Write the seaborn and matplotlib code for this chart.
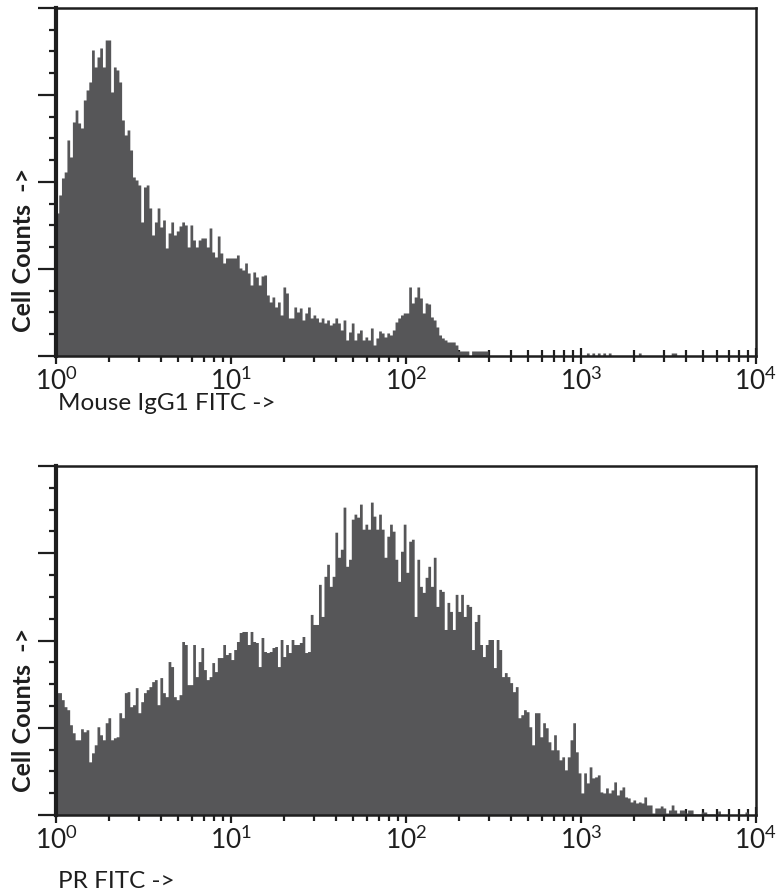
import numpy as np
import pandas as pd
import matplotlib
matplotlib.use("Agg")
import matplotlib.pyplot as plt
import seaborn as sns
from matplotlib.ticker import MultipleLocator, NullFormatter

# 256-channel histograms, 4 decades, counts
igg1_counts = [
    143, 161, 178, 184, 216, 199, 234, 246, 233, 228, 256, 266, 274, 306, 289, 299,
    308, 289, 316, 316, 264, 289, 286, 274, 236, 221, 226, 206, 179, 176, 171, 134,
    169, 171, 148, 121, 134, 148, 129, 136, 108, 123, 134, 121, 125, 130, 134, 131,
    109, 131, 116, 109, 116, 118, 118, 109, 128, 104, 99, 120, 103, 93, 98, 98,
    98, 98, 101, 88, 86, 93, 83, 71, 84, 79, 71, 80, 81, 61, 54, 59,
    49, 54, 41, 69, 63, 38, 38, 49, 44, 48, 36, 43, 49, 38, 41, 38,
    34, 38, 33, 36, 31, 33, 38, 33, 26, 36, 16, 24, 33, 16, 23, 26,
    16, 19, 16, 28, 11, 18, 25, 23, 19, 23, 21, 26, 34, 38, 41, 43,
    43, 69, 53, 59, 69, 58, 43, 53, 52, 39, 36, 29, 21, 18, 16, 14,
    14, 14, 11, 5, 5, 5, 5, 0, 5, 5, 5, 5, 5, 5, 0, 0,
    0, 0, 0, 0, 0, 0, 0, 0, 0, 0, 0, 0, 0, 0, 0, 0,
    0, 0, 0, 0, 0, 0, 0, 0, 0, 0, 0, 0, 0, 0, 0, 0,
    0, 0, 3, 0, 3, 0, 3, 0, 3, 0, 3, 0, 0, 0, 0, 0,
    0, 0, 0, 0, 0, 3, 0, 0, 0, 0, 0, 0, 0, 0, 0, 0,
    0, 3, 3, 0, 0, 0, 0, 0, 0, 0, 0, 0, 0, 0, 0, 0,
    0, 0, 0, 0, 0, 0, 0, 0, 0, 0, 0, 0, 0, 0, 0, 0,
]

pr_counts = [
    122, 122, 115, 108, 105, 90, 82, 75, 75, 86, 83, 85, 53, 62, 70, 88,
    80, 75, 92, 97, 75, 77, 78, 102, 97, 122, 123, 108, 110, 127, 102, 113,
    122, 125, 128, 133, 135, 110, 137, 122, 118, 153, 148, 118, 115, 120, 173,
    170, 130, 130, 170, 138, 153, 167, 145, 135, 138, 152, 143, 157, 157, 170,
    160, 162, 155, 165, 173, 182, 183, 183, 170, 183, 173, 172, 148, 177, 163,
    162, 163, 167, 168, 148, 175, 158, 170, 162, 175, 170, 170, 172, 178, 162,
    163, 200, 190, 190, 230,
    198, 238, 250, 228, 238, 282, 257, 265, 307, 248, 255, 295, 300, 297, 310,
    285, 290, 285, 312, 298, 285, 300, 285, 257, 278, 290, 283, 255, 233, 263,
    290, 242, 273, 275, 198, 255, 228, 222, 237, 248, 228, 257, 208, 225, 223, 185,
    212, 203, 185, 220, 203, 220, 198, 210, 208, 165, 193, 200, 170, 158, 170,
    175, 175, 147, 175, 165, 138, 142, 138, 132, 123, 128, 97, 100, 105, 103,
    88, 70, 102, 102, 78, 92, 87, 73, 65, 80, 65, 55, 58, 45, 58,
    75, 92, 63, 42, 22, 42, 32, 48, 37, 38, 40, 23, 22, 27, 22, 25,
    33, 20, 25, 28, 18, 17, 13, 15, 12, 13, 12, 18, 10, 10, 2, 7,
    7, 9, 7, 2, 5, 10, 5, 2, 5, 5, 2, 5, 5, 1, 1, 1,
    3, 3, 1, 1, 1, 0, 4, 0, 0, 0, 0, 0, 0, 0, 0, 0,
    3, 0, 0, 0,
]

x_labels = ["Mouse IgG1 FITC ->", "PR FITC ->"]
y_label = "Cell Counts  ->"
n_channels = 256
n_decades = 4
y_max = 348

sns.set_theme(style="ticks")
plt.rcParams["font.family"] = ["Lato", "DejaVu Sans"]
plt.rcParams["mathtext.default"] = "regular"

fill = "#565658"
ink = "#1e1e1e"

fig = plt.figure(figsize=(7.82, 8.96), dpi=100, facecolor="white")
boxes = [[0.0716, 0.6027, 0.8951, 0.3884], [0.0716, 0.0904, 0.8951, 0.3895]]
xlab_y = [-0.105, -0.16]
ylab_y = [0.305, 0.30]

channel = np.arange(n_channels)
fluor = 10 ** ((channel + 0.5) * n_decades / n_channels)

for i, counts in enumerate([igg1_counts, pr_counts]):
    ax = fig.add_axes(boxes[i])
    df = pd.DataFrame({"fluor": fluor, "count": counts})
    sns.histplot(data=df, x="fluor", weights="count", bins=n_channels,
                 binrange=(0, n_decades), log_scale=True, element="step",
                 fill=True, color=fill, alpha=1, linewidth=0, ax=ax)
    ax.set_xlim(1, 10 ** n_decades)
    ax.set_ylim(0, y_max)

    ax.yaxis.set_major_locator(MultipleLocator(y_max / 4))
    ax.yaxis.set_minor_locator(MultipleLocator(y_max / 16))
    ax.xaxis.set_minor_formatter(NullFormatter())
    ax.tick_params(axis="y", which="major", direction="out", length=13,
                   width=1.6, color=ink, labelleft=False)
    ax.tick_params(axis="y", which="minor", direction="out", length=5,
                   width=1.6, color=ink)
    ax.tick_params(axis="x", which="major", direction="inout", length=12,
                   width=1.6, color=ink, labelsize=19, pad=2, labelcolor=ink)
    ax.tick_params(axis="x", which="minor", direction="inout", length=8,
                   width=1.6, color=ink)

    for side in ["top", "right", "bottom"]:
        ax.spines[side].set_linewidth(1.8)
        ax.spines[side].set_color(ink)
    ax.spines["left"].set_linewidth(3)
    ax.spines["left"].set_color(ink)

    ax.set_xlabel(x_labels[i], fontsize=17.5, color=ink, loc="left")
    ax.xaxis.set_label_coords(0.003, xlab_y[i])
    ax.set_ylabel(y_label, fontsize=18, fontweight="bold", color=ink)
    ax.yaxis.set_label_coords(-0.03, ylab_y[i])

fig.savefig("out.png", dpi=100, facecolor="white")
